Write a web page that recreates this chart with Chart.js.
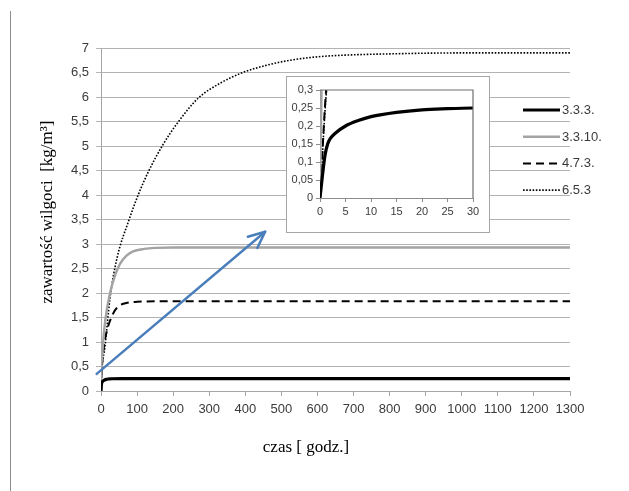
<!DOCTYPE html>
<html><head><meta charset="utf-8">
<script src="https://cdn.jsdelivr.net/npm/chart.js@4.4.1/dist/chart.umd.min.js"></script>
<style>
html,body{margin:0;padding:0;background:#fff;}
#wrap{position:relative;width:629px;height:491px;overflow:hidden;}
#main{position:absolute;left:0;top:0;}
#frameLine{position:absolute;left:10px;top:11px;width:1px;height:480px;background:#8c8c8c;}
#insetBox{position:absolute;left:286px;top:76px;width:202px;height:155px;border:1px solid #a6a6a6;background:#fff;}
#inset{position:absolute;left:0;top:0;}
</style></head>
<body>
<div id="wrap">
  <div id="frameLine"></div>
  <canvas id="main" width="629" height="491"></canvas>
  <div id="insetBox"><canvas id="inset" width="202" height="155"></canvas></div>
</div>
<script>
// ---- data ----
const seriesLabels = ['3.3.3.', '3.3.10.', '4.7.3.', '6.5.3'];
const t333 = [0, 0.5, 1, 1.5, 2, 3, 5, 7.5, 10, 15, 20, 25, 30, 60, 200, 600, 1000, 1300];
const v333 = [0, 0.065, 0.12, 0.15, 0.165, 0.18, 0.2, 0.215, 0.226, 0.238, 0.245, 0.248, 0.25, 0.252, 0.252, 0.252, 0.252, 0.252];
const t3310 = [0, 0.3, 3, 6, 12, 25, 40, 53, 70, 89, 120, 150, 200, 400, 700, 1000, 1300];
const v3310 = [0, 0.3, 0.68, 1.0, 1.45, 2.0, 2.38, 2.6, 2.76, 2.85, 2.9, 2.92, 2.93, 2.93, 2.93, 2.93, 2.93];
const t473 = [0, 1.2, 5, 10, 19, 30, 39, 53, 72, 100, 150, 200, 600, 1000, 1300];
const v473 = [0, 0.3, 0.7, 1.0, 1.3, 1.52, 1.65, 1.75, 1.8, 1.82, 1.83, 1.83, 1.83, 1.83, 1.83];
const t653 = [0, 1.3, 11, 25, 44, 78, 103, 131, 172, 212, 270, 330, 393, 460, 524, 600, 662, 800, 1000, 1300];
const v653 = [0, 0.3, 0.9, 1.9, 2.7, 3.5, 4.0, 4.47, 5.03, 5.47, 5.98, 6.28, 6.5, 6.65, 6.75, 6.82, 6.85, 6.88, 6.9, 6.9];
const xTicksMain = [0, 1300, 100];   // min, max, step
const yTicksMain = [0, 7, 0.5];
const xTicksInset = [0, 30, 5];
const yTicksInset = [0, 0.3, 0.05];
const xTitle = 'czas [ godz.]';
const yTitle = 'zawartość wilgoci  [kg/m³]';
const arrowFrom = {x: -12, y: 0.35};
const arrowTo = {x: 455, y: 3.25};

const pts = (t, v) => t.map((x, i) => ({x: x, y: v[i]}));
const styles = [
  {borderColor: '#000000', borderWidth: 3.2, borderDash: []},
  {borderColor: '#a3a3a3', borderWidth: 2.4, borderDash: []},
  {borderColor: '#000000', borderWidth: 2, borderDash: [8, 5]},
  {borderColor: '#000000', borderWidth: 1.6, borderDash: [1.6, 1.6]}
];
function makeDatasets() {
  const d = [pts(t333, v333), pts(t3310, v3310), pts(t473, v473), pts(t653, v653)];
  return d.map((data, i) => Object.assign({
    label: seriesLabels[i], data: data, pointRadius: 0, fill: false,
    cubicInterpolationMode: 'monotone'
  }, styles[i]));
}
const comma = v => String(Math.round(v * 100) / 100).replace('.', ',');
const plain = v => String(Math.round(v));
const tickFont = {family: 'Liberation Sans', size: 13};
const tickColor = '#3b3b3b';

const mainPlugin = {
  id: 'mainExtras',
  afterDraw(chart) {
    const ctx = chart.ctx, xs = chart.scales.x, ys = chart.scales.y;
    ctx.save();
    // legend
    chart.data.datasets.forEach((ds, i) => {
      const y = 110 + i * 26.7;
      ctx.strokeStyle = ds.borderColor; ctx.lineWidth = ds.borderWidth;
      ctx.setLineDash(ds.borderDash || []);
      ctx.beginPath(); ctx.moveTo(523, y); ctx.lineTo(560, y); ctx.stroke();
      ctx.setLineDash([]);
      ctx.fillStyle = tickColor; ctx.font = '13px "Liberation Sans"';
      ctx.textBaseline = 'middle'; ctx.textAlign = 'left';
      ctx.fillText(ds.label, 562, y + 0.5);
    });
    // axis titles
    ctx.fillStyle = '#000'; ctx.font = '17px "Liberation Serif"';
    ctx.textAlign = 'center'; ctx.textBaseline = 'middle';
    ctx.fillText(xTitle, 306, 448);
    ctx.save();
    ctx.translate(48, 212); ctx.rotate(-Math.PI / 2);
    ctx.fillText(yTitle, 0, 0);
    ctx.restore();
    // arrow
    const x0 = xs.getPixelForValue(arrowFrom.x), y0 = ys.getPixelForValue(arrowFrom.y);
    const x1 = xs.getPixelForValue(arrowTo.x), y1 = ys.getPixelForValue(arrowTo.y);
    ctx.strokeStyle = '#4a7ebb'; ctx.lineWidth = 2.5; ctx.lineCap = 'round'; ctx.lineJoin = 'round';
    ctx.beginPath(); ctx.moveTo(x0, y0); ctx.lineTo(x1, y1); ctx.stroke();
    const ang = Math.atan2(y1 - y0, x1 - x0), L = 18, a = 0.42;
    ctx.beginPath();
    ctx.moveTo(x1 - L * Math.cos(ang - a), y1 - L * Math.sin(ang - a));
    ctx.lineTo(x1, y1);
    ctx.lineTo(x1 - L * Math.cos(ang + a), y1 - L * Math.sin(ang + a));
    ctx.stroke();
    ctx.restore();
  }
};

new Chart(document.getElementById('main'), {
  type: 'line',
  data: {datasets: makeDatasets()},
  options: {
    responsive: false, animation: false,
    layout: {padding: {left: 0, top: 48, right: 59, bottom: 0}},
    plugins: {legend: {display: false}, tooltip: {enabled: false}},
    scales: {
      x: {
        type: 'linear', min: xTicksMain[0], max: xTicksMain[1],
        afterFit: s => { s.height = 100; },
        grid: {display: true, drawOnChartArea: false, drawTicks: true, tickLength: 5, color: '#a6a6a6'},
        border: {color: '#a6a6a6', width: 1},
        ticks: {stepSize: xTicksMain[2], font: tickFont, color: tickColor, padding: 6, maxRotation: 0, autoSkip: false, callback: v => plain(v)}
      },
      y: {
        min: yTicksMain[0], max: yTicksMain[1],
        afterFit: s => { s.width = 101; },
        grid: {color: '#b3b3b3', tickLength: 5},
        border: {color: '#a6a6a6', width: 1},
        ticks: {stepSize: yTicksMain[2], font: tickFont, color: tickColor, padding: 7, callback: v => comma(v)}
      }
    }
  },
  plugins: [mainPlugin]
});

const insetPlugin = {
  id: 'insetBorder',
  afterDatasetsDraw(chart) {
    const {ctx, chartArea: a} = chart;
    ctx.save();
    ctx.strokeStyle = '#6e6e6e'; ctx.lineWidth = 1.2;
    ctx.beginPath();
    ctx.moveTo(a.left, a.top); ctx.lineTo(a.right, a.top); ctx.lineTo(a.right, a.bottom);
    ctx.stroke();
    ctx.restore();
  }
};
new Chart(document.getElementById('inset'), {
  type: 'line',
  data: {datasets: makeDatasets()},
  options: {
    responsive: false, animation: false,
    layout: {padding: {left: 0, top: 13, right: 16, bottom: 0}},
    plugins: {legend: {display: false}, tooltip: {enabled: false}},
    scales: {
      x: {
        type: 'linear', min: xTicksInset[0], max: xTicksInset[1],
        afterFit: s => { s.height = 34; },
        grid: {display: true, drawOnChartArea: false, tickLength: 4, color: '#8c8c8c'},
        border: {color: '#8c8c8c'},
        ticks: {stepSize: xTicksInset[2], font: {family: 'Liberation Sans', size: 11}, color: tickColor, padding: 3, maxRotation: 0}
      },
      y: {
        min: yTicksInset[0], max: yTicksInset[1],
        afterFit: s => { s.width = 33; },
        grid: {display: true, drawOnChartArea: false, tickLength: 4, color: '#8c8c8c'},
        border: {color: '#8c8c8c'},
        ticks: {stepSize: yTicksInset[2], font: {family: 'Liberation Sans', size: 11}, color: tickColor, padding: 3, callback: v => comma(v)}
      }
    }
  },
  plugins: [insetPlugin]
});
</script>
</body></html>
